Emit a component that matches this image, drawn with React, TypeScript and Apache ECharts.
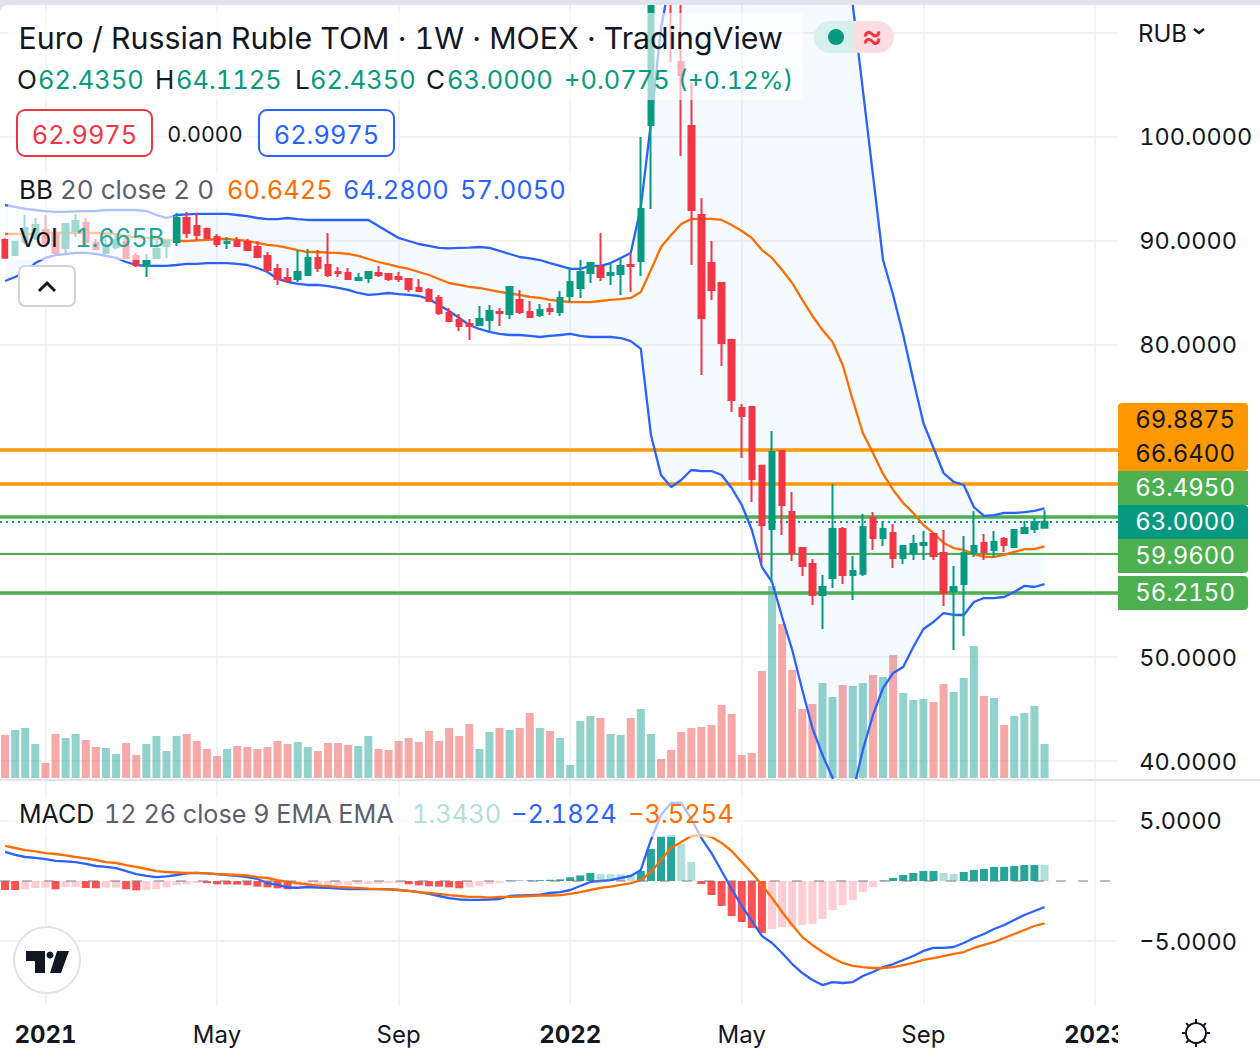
import React, { useEffect, useRef } from "react";
import * as echarts from "echarts";

const opens = [
  90.10,88.65,89.96,90.29,91.06,90.77,89.33,90.96,91.73,89.81,
  88.85,89.40,89.90,88.56,87.60,88.37,89.52,89.90,92.21,91.44,
  91.15,90.38,89.81,90.0,89.9,89.42,88.56,87.31,86.44,86.35,
  86.73,88.37,87.69,87.02,86.92,86.25,86.44,86.92,86.83,86.54,
  86.35,85.48,85.29,84.52,83.08,82.40,82.02,81.92,82.40,83.17,
  82.98,84.33,83.17,82.88,83.46,83.17,84.71,85.48,86.92,87.50,
  86.73,86.83,87.69,88.08,101.15,122,120,107.21,101.06,92.50,
  87.88,85.96,80.48,73.94,74.04,68.38,62.31,69.81,63.94,60.48,
  58.94,55.96,57.60,62.31,57.88,58.0,63.36,61.44,61.92,59.52,
  60.0,60.77,61.83,60.0,56.35,57.02,60.0,60.96,60.29,61.35,
  60.58,61.92,62.31,62.435,
];
const closes = [
  88.39,89.93,91.25,91.54,89.81,88.85,91.63,91.92,89.90,89.23,
  89.62,90.10,88.37,87.69,88.08,89.23,89.98,92.21,90.77,90.58,
  90.29,89.71,89.90,89.52,89.13,88.46,87.21,86.35,86.15,87.02,
  88.37,87.40,86.73,86.92,86.35,86.44,87.02,86.73,86.35,86.35,
  85.38,85.19,84.23,83.08,82.31,81.83,81.83,82.50,83.27,83.08,
  85.58,83.17,82.69,83.37,83.27,84.52,86.06,87.02,87.88,86.54,
  86.92,87.60,87.60,93.08,118,118,114,105.96,92.98,82.60,
  85.29,80.19,74.71,73.17,67.12,62.69,69.71,64.61,60.0,58.75,
  55.96,56.73,62.31,57.88,58.27,62.50,61.44,62.31,59.52,60.67,
  60.87,60.96,59.71,56.15,56.73,60.0,60.67,60.10,61.06,60.77,
  62.21,62.40,62.98,63.0,
];
const lows = [
  88.36,88.56,89.71,90.10,89.62,88.85,88.85,90.38,89.62,89.23,
  88.85,89.20,88.37,87.50,86.54,88.37,88.37,89.52,90.29,90.10,
  90.29,89.42,89.23,89.42,89.13,88.46,87.02,85.77,86.06,86.06,
  86.73,87.02,86.54,86.54,86.35,86.15,85.96,86.54,86.15,86.06,
  85.10,85.10,84.13,82.88,82.31,81.35,80.48,81.83,81.35,81.83,
  82.50,82.98,82.69,82.69,82.88,82.79,84.13,84.52,85.96,86.15,
  85.77,84.81,85.10,86.63,93.08,116,107.2,98.17,87.69,77.11,
  84.33,77.98,73.56,69.13,64.90,59.04,57.12,61.73,59.23,57.79,
  55.0,52.69,56.63,57.02,55.48,57.79,60.29,60.67,58.56,58.94,
  59.33,59.33,59.33,54.90,50.67,52.02,59.62,59.33,59.62,60.10,
  60.58,61.83,61.92,62.435,
];
const highs = [
  90.26,89.98,92.50,92.21,92.50,91.25,91.63,92.60,92.21,90.19,
  90.29,90.60,90.29,88.85,88.75,90.10,89.98,92.69,92.79,92.69,
  91.30,90.67,90.38,90.38,90.19,90.0,88.94,87.79,87.40,89.13,
  89.23,89.13,90.77,87.50,87.40,86.92,87.02,87.60,86.92,87.02,
  86.44,86.35,85.48,84.81,83.56,82.98,82.50,83.75,83.85,83.56,
  85.67,85.29,84.23,83.94,84.04,85.19,87.50,88.17,87.98,90.77,
  87.79,88.37,88.85,100.0,125,132,126,118,105.19,94.13,
  90.0,86.06,80.6,74.33,74.13,68.38,71.73,69.81,65.87,60.58,
  59.42,57.88,66.63,62.5,59.71,63.75,63.94,63.08,62.79,60.67,
  61.73,62.11,61.83,62.21,58.75,61.63,64.04,61.83,62.11,61.54,
  62.31,63.08,63.37,64.1125,
];
const bbUpper = [
  93.46,93.27,93.08,92.98,92.88,92.79,92.79,92.84,92.88,92.88,
  92.98,92.98,92.98,92.98,92.88,92.50,92.21,92.50,92.55,92.60,
  92.60,92.60,92.60,92.50,92.40,92.21,92.11,92.11,92.21,92.11,
  92.02,92.02,92.02,92.02,92.02,92.02,92.02,91.44,90.87,90.29,
  90.0,89.71,89.52,89.33,89.28,89.33,89.37,89.42,89.33,89.04,
  88.75,88.46,88.32,88.17,87.88,87.60,87.31,87.31,87.60,87.60,
  87.88,88.37,88.85,93.27,101.35,110.48,115.67,119,122,124,
  125,126,127,127,127,126,125,124.5,124,123.5,
  123,122.5,122,121.3,112.69,104.52,96.35,88.17,84.81,80.96,
  76.63,72.5,70.10,67.69,66.83,66.54,64.42,63.56,63.65,63.85,
  63.85,63.94,64.04,64.28,
];
const bbBasis = [
  90.67,90.67,90.67,90.67,90.77,90.77,90.77,90.77,90.77,90.77,
  90.72,90.67,90.48,90.38,90.29,90.19,90.10,90.0,90.0,90.05,
  90.10,90.19,90.19,90.10,90.0,89.81,89.62,89.52,89.33,89.13,
  88.94,88.94,88.89,88.85,88.75,88.56,88.27,87.98,87.74,87.50,
  87.31,87.02,86.73,86.35,85.96,85.77,85.58,85.48,85.29,85.10,
  84.95,84.81,84.62,84.52,84.33,84.23,84.13,84.13,84.13,84.23,
  84.33,84.42,84.52,85.10,87.21,89.42,90.58,91.63,92.12,92.12,
  92.12,92.02,91.54,90.96,90.29,89.13,88.37,87.21,85.96,84.33,
  82.79,81.44,80.29,78.08,74.71,71.54,69.62,67.60,66.06,64.81,
  63.85,62.69,61.92,60.96,60.48,60.29,59.90,59.62,59.62,59.81,
  60.10,60.38,60.38,60.6425,
];
const bbLower = [
  86.15,86.54,87.02,87.88,88.37,88.65,88.75,88.85,88.85,88.75,
  88.56,88.37,87.98,87.69,87.60,87.60,87.60,87.69,87.79,87.79,
  87.88,87.88,87.88,87.79,87.69,87.40,87.02,86.35,86.06,85.87,
  85.77,85.77,85.67,85.48,85.29,85.0,84.81,84.90,85.0,84.90,
  84.81,84.71,84.42,83.85,83.27,82.60,81.92,81.54,81.25,81.06,
  80.96,80.96,80.87,80.77,80.87,80.96,81.06,80.87,80.77,80.77,
  80.77,80.67,80.38,79.62,71.35,67.50,66.35,67.02,67.98,67.88,
  67.88,67.50,66.25,64.63,62.21,58.65,57.21,53.85,50.67,46.83,
  43.17,40.58,38.37,35.29,36.92,41.06,44.42,47.02,48.46,49.04,
  50.96,52.69,53.37,54.23,54.04,54.04,55.29,55.67,55.67,55.77,
  56.25,56.83,56.73,57.005,
];
const volumes = [
  2.107,2.352,2.45,1.666,0.735,2.156,1.96,2.156,1.862,1.519,
  1.47,1.176,1.715,1.127,1.666,2.058,1.323,2.058,2.156,1.813,
  1.421,1.078,1.421,1.568,1.519,1.421,1.519,1.813,1.666,1.764,
  1.519,1.323,1.715,1.715,1.617,1.568,2.058,1.421,1.372,1.813,
  1.96,1.764,2.303,1.813,2.45,2.058,2.646,1.421,2.254,2.45,
  2.352,2.45,3.185,2.45,2.303,1.96,0.637,2.793,3.038,2.94,
  2.156,2.107,2.94,3.381,2.156,0.931,1.372,2.254,2.45,2.499,
  2.597,3.577,3.136,1.127,1.225,5.243,9.408,7.546,5.292,3.381,
  3.626,4.655,3.969,4.557,4.508,4.655,5.047,4.949,6.027,4.165,
  3.822,3.871,3.724,4.606,4.214,4.9,6.468,4.018,3.92,2.597,
  3.038,3.185,3.528,1.665,
];
const macdHist = [
  -0.75,-0.75,-0.69,-0.58,-0.55,-0.69,-0.53,-0.50,-0.58,-0.60,
  -0.56,-0.55,-0.69,-0.78,-0.77,-0.69,-0.53,-0.36,-0.28,-0.17,
  -0.18,-0.28,-0.29,-0.30,-0.36,-0.47,-0.53,-0.61,-0.69,-0.56,
  -0.44,-0.36,-0.35,-0.34,-0.33,-0.28,-0.27,-0.26,-0.17,-0.16,
  -0.28,-0.36,-0.44,-0.47,-0.53,-0.61,-0.53,-0.44,-0.28,-0.17,
  0.03,0.04,0.05,0.07,0.1,0.14,0.31,0.47,0.67,0.58,
  0.57,0.56,0.55,0.83,2.67,3.72,3.83,3.08,1.58,-0.25,
  -1.17,-2.08,-2.92,-3.42,-3.92,-4.33,-4.0,-3.83,-3.82,-3.67,
  -3.58,-3.17,-2.42,-2.0,-1.58,-0.92,-0.5,0.03,0.25,0.5,
  0.67,0.83,0.84,0.67,0.58,0.75,0.92,1.0,1.17,1.18,
  1.25,1.33,1.345,1.343,
];
const macdLine = [
  2.42,2.17,2.0,1.92,1.83,1.67,1.63,1.58,1.42,1.25,
  1.17,1.08,0.83,0.58,0.42,0.33,0.38,0.5,0.63,0.67,
  0.63,0.58,0.5,0.42,0.33,0.17,-0.17,-0.33,-0.54,-0.58,
  -0.5,-0.54,-0.58,-0.63,-0.67,-0.67,-0.67,-0.67,-0.67,-0.75,
  -0.83,-0.92,-1.08,-1.25,-1.42,-1.54,-1.58,-1.58,-1.54,-1.5,
  -1.25,-1.21,-1.17,-1.13,-1.0,-0.92,-0.75,-0.42,-0.08,0,
  0.08,0.25,0.42,0.92,3.42,5.5,6.5,6.5,5.17,3.58,
  2.33,0.83,-0.67,-2.08,-3.33,-4.58,-5.17,-6.0,-6.92,-7.67,
  -8.25,-8.67,-8.42,-8.5,-8.42,-7.92,-7.58,-7.17,-6.92,-6.58,
  -6.25,-5.83,-5.58,-5.58,-5.5,-5.17,-4.75,-4.42,-4.0,-3.67,
  -3.25,-2.83,-2.5,-2.1824,
];
const macdSignal = [
  2.92,2.75,2.58,2.46,2.33,2.25,2.13,2.0,1.88,1.75,
  1.58,1.5,1.33,1.17,1.0,0.83,0.75,0.71,0.67,0.67,
  0.63,0.58,0.54,0.5,0.46,0.33,0.25,0.08,-0.08,-0.17,
  -0.29,-0.38,-0.42,-0.5,-0.54,-0.58,-0.63,-0.67,-0.71,-0.75,
  -0.83,-0.92,-1.0,-1.08,-1.17,-1.25,-1.33,-1.33,-1.38,-1.33,
  -1.33,-1.29,-1.25,-1.21,-1.21,-1.17,-1.08,-0.92,-0.75,-0.58,
  -0.46,-0.33,-0.17,0.08,0.75,1.75,2.75,3.25,3.75,3.83,
  3.67,3.17,2.5,1.58,0.67,-0.33,-1.42,-2.58,-3.67,-4.67,
  -5.33,-5.92,-6.42,-6.83,-7.08,-7.17,-7.25,-7.25,-7.17,-7.0,
  -6.83,-6.58,-6.42,-6.25,-6.08,-5.92,-5.58,-5.33,-5.08,-4.75,
  -4.42,-4.08,-3.75,-3.5254,
];

const timeLabels: [number, string][] = [
  [4, "2021"], [21, "May"], [39, "Sep"], [56, "2022"], [73, "May"], [91, "Sep"], [108, "2023"],
];
const yearLabels = ["2021", "2022", "2023"];
const categoryCount = 111;
const categories = Array.from({ length: categoryCount }, (_, i) => {
  const hit = timeLabels.find((t) => t[0] === i);
  return hit ? hit[1] : "";
});
const priceGridTicks = [40, 50, 60, 70, 80, 90, 100, 110];
const priceTickLabels = [40, 50, 80, 90, 100];
const macdTicks = [-5, 5];
const orangeLevels = [69.8875, 66.64];
const greenLevels = [63.495, 59.96, 56.215];
const lastPrice = 63.0;

const FONT = "Inter, 'Noto Sans', sans-serif";
const INK = "#131722";
const GREY = "#5D606B";
const UP = "#089981";
const DOWN = "#F23645";
const BLUE = "#2962FF";
const ORANGE = "#FF6D00";
const GRID = "#F2F3F6";
const NUM = 25.4;

function txt(text: string, x: number, y: number, fill: string, size: number, align = "left", weight: any = 400) {
  return {
    type: "text", z: 70, silent: true,
    style: { text, x, y, fill, font: `${weight} ${size}px ${FONT}`, textAlign: align, textVerticalAlign: "middle" },
  };
}
function box(x: number, y: number, w: number, h: number, fill: string, opacity = 1, r: any = 0, stroke?: string, z = 60) {
  return {
    type: "rect", z, silent: true,
    shape: { x, y, width: w, height: h, r },
    style: { fill, opacity, stroke, lineWidth: stroke ? 2 : 0 },
  };
}

function overlay(): any[] {
  const teeth: any[] = [];
  for (let i = 0; i < 8; i++) {
    const a = (i * Math.PI) / 4;
    teeth.push({
      type: "line", z: 70, silent: true,
      shape: {
        x1: 1196 + Math.cos(a) * 10, y1: 1033 + Math.sin(a) * 10,
        x2: 1196 + Math.cos(a) * 14, y2: 1033 + Math.sin(a) * 14,
      },
      style: { stroke: INK, lineWidth: 2 },
    });
  }
  const axisTag = (y: number, h: number, fill: string, r: any) => box(1118, y, 130, h, fill, 1, r, undefined, 62);
  return [
    // pane chrome
    box(0, 0, 1260, 5, "#E0E3EB", 1, 0, undefined, 55),
    box(0, 4, 9, 9, "#E0E3EB", 1, 0, undefined, 55),
    box(0, 5, 18, 18, "#FFFFFF", 1, [8, 0, 0, 0], undefined, 56),
    box(1118, 5, 8, 1000, "#FFFFFF", 1, 0, undefined, 50),
    box(1118, 1006, 60, 50, "#FFFFFF", 1, 0, undefined, 50),
    box(0, 779, 1260, 2, "#E0E3EB", 1, 0, undefined, 55),
    // legend veils
    box(8, 13, 795, 87, "#FFFFFF", 0.62, 0, undefined, 58),
    box(8, 172, 567, 36, "#FFFFFF", 0.62, 0, undefined, 58),
    box(8, 208, 165, 52, "#FFFFFF", 0.62, 0, undefined, 58),
    box(8, 797, 735, 40, "#FFFFFF", 0.62, 0, undefined, 58),
    // title
    txt("Euro / Russian Ruble TOM · 1W · MOEX · TradingView", 18.5, 37.5, INK, 30.35),
    box(814, 21, 40, 32, "#D6F0EC", 1, [16, 0, 0, 16]),
    box(854, 21, 40, 32, "#FCDDE2", 1, [0, 16, 16, 0]),
    { type: "circle", z: 70, silent: true, shape: { cx: 836, cy: 37, r: 8 }, style: { fill: UP } },
    txt("≈", 872, 35, DOWN, 32, "center", 500),
    // OHLC
    txt("O", 17, 79.5, INK, 26), txt("62.4350", 38, 79.5, UP, NUM),
    txt("H", 155, 79.5, INK, 26), txt("64.1125", 176, 79.5, UP, NUM),
    txt("L", 295, 79.5, INK, 26), txt("62.4350", 310, 79.5, UP, NUM),
    txt("C", 426, 79.5, INK, 26), txt("63.0000", 447, 79.5, UP, NUM),
    txt("+0.0775", 564, 79.5, UP, NUM), txt("(+0.12%)", 678, 79.5, UP, 24.9),
    // bid / ask
    box(17, 110, 135, 46, "#FFFFFF", 1, 8, DOWN),
    txt("62.9975", 84.5, 134, DOWN, NUM, "center"),
    txt("0.0000", 205, 134, INK, 21.5, "center"),
    box(259, 110, 135, 46, "#FFFFFF", 1, 8, BLUE),
    txt("62.9975", 326.5, 134, BLUE, NUM, "center"),
    // BB
    txt("BB", 19, 189.5, INK, 26),
    txt("20 close 2 0", 60, 189.5, GREY, 26),
    txt("60.6425", 227, 189.5, ORANGE, NUM),
    txt("64.2800", 343, 189.5, BLUE, NUM),
    txt("57.0050", 460, 189.5, BLUE, NUM),
    // Vol
    txt("Vol", 19, 237.5, INK, 26),
    txt("1.665B", 75, 237.5, "#26A69A", NUM),
    // collapse button
    box(19, 266, 56, 40, "#FFFFFF", 1, 6, "#D1D4DC"),
    {
      type: "polyline", z: 70, silent: true,
      shape: { points: [[39, 291], [47, 283], [55, 291]] },
      style: { stroke: INK, lineWidth: 3, fill: "none" },
    },
    // MACD
    txt("MACD", 19, 813.5, INK, 25),
    txt("12 26 close 9 EMA EMA", 104, 813.5, GREY, 25.2),
    txt("1.3430", 412, 813.5, "#B2DFDB", NUM),
    txt("−2.1824", 511, 813.5, BLUE, NUM),
    txt("−3.5254", 628, 813.5, ORANGE, NUM),
    // price tags
    axisTag(403, 34, "#FF9800", [4, 4, 0, 0]),
    axisTag(437, 34, "#FF9800", [0, 0, 4, 0]),
    axisTag(471, 34, "#4CAF50", 0),
    axisTag(505, 34, "#089981", [0, 4, 0, 0]),
    axisTag(539, 34, "#4CAF50", [0, 0, 4, 0]),
    axisTag(576, 34, "#4CAF50", [0, 4, 4, 0]),
    { ...txt("69.8875", 1235, 419.5, INK, 24, "right"), z: 72 },
    { ...txt("66.6400", 1235, 453.5, INK, 24, "right"), z: 72 },
    { ...txt("63.4950", 1235, 487.5, "#FFFFFF", 24, "right"), z: 72 },
    { ...txt("63.0000", 1235, 521.5, "#FFFFFF", 24, "right"), z: 72 },
    { ...txt("59.9600", 1235, 555.5, "#FFFFFF", 24, "right"), z: 72 },
    { ...txt("56.2150", 1235, 592.5, "#FFFFFF", 24, "right"), z: 72 },
    // currency selector
    txt("RUB", 1138, 33, INK, 24),
    {
      type: "polyline", z: 70, silent: true,
      shape: { points: [[1194, 29], [1199, 33], [1204, 29]] },
      style: { stroke: INK, lineWidth: 2.5, fill: "none" },
    },
    // logo
    {
      type: "circle", z: 65, silent: true,
      shape: { cx: 47, cy: 960, r: 33 },
      style: { fill: "#FFFFFF", stroke: "#E0E3EB", lineWidth: 2 },
    },
    {
      type: "polygon", z: 70, silent: true,
      shape: { points: [[26, 951], [45, 951], [45, 973], [35, 973], [35, 961], [26, 961]] },
      style: { fill: INK },
    },
    {
      type: "polygon", z: 70, silent: true,
      shape: { points: [[57, 951], [69, 951], [61, 973], [50, 973]] },
      style: { fill: INK },
    },
    { type: "circle", z: 70, silent: true, shape: { cx: 50, cy: 955, r: 3.5 }, style: { fill: INK } },
    // settings icon
    {
      type: "circle", z: 70, silent: true,
      shape: { cx: 1196, cy: 1033, r: 10 },
      style: { fill: "#FFFFFF", stroke: INK, lineWidth: 2 },
    },
    ...teeth,
  ];
}

export default function App() {
  const ref = useRef<HTMLDivElement>(null);
  useEffect(() => {
    document.body.style.margin = "0";
    document.body.style.overflow = "hidden";
    const sheet = document.createElement("style");
    sheet.textContent =
      "svg text { font-variant-numeric: tabular-nums !important; font-feature-settings: 'tnum' 1 !important; }";
    document.head.appendChild(sheet);
    const chart = echarts.init(ref.current!, undefined, { renderer: "svg" });
    const labelShown = (i: number) => categories[i] !== "";
    const gridBox = { left: -2, width: 1122.2 };
    const xBase = {
      type: "category",
      data: categories,
      boundaryGap: true,
      axisLine: { show: false },
      axisTick: { show: false },
    };
    const vSplit = {
      show: true,
      alignWithLabel: true,
      interval: (i: number) => labelShown(i),
      lineStyle: { color: GRID, width: 2 },
    };
    chart.setOption({
      animation: false,
      tooltip: { show: false },
      grid: [
        { ...gridBox, top: 5, height: 774 },
        { ...gridBox, top: 5, height: 773 },
        { ...gridBox, top: 781, height: 224 },
      ],
      xAxis: [
        { ...xBase, gridIndex: 0, axisLabel: { show: false }, splitLine: vSplit },
        { ...xBase, gridIndex: 1, axisLabel: { show: false }, splitLine: { show: false } },
        {
          ...xBase,
          gridIndex: 2,
          splitLine: vSplit,
          axisLabel: {
            show: true,
            interval: (i: number) => labelShown(i),
            margin: 17,
            color: INK,
            fontFamily: FONT,
            fontSize: 24,
            formatter: (v: string) => (yearLabels.includes(v) ? `{y|${v}}` : v),
            rich: { y: { fontFamily: FONT, fontSize: 24, fontWeight: 700, color: INK } },
          },
        },
      ],
      yAxis: [
        {
          type: "value", gridIndex: 0, position: "right",
          min: 38.27, max: 112.69,
          axisLine: { show: false },
          axisTick: { show: false, customValues: priceGridTicks },
          axisLabel: {
            show: true, customValues: priceTickLabels, inside: false, margin: 19,
            color: INK, fontFamily: FONT, fontSize: 23.5, align: "left",
            formatter: (v: number) => v.toFixed(4),
          },
          splitLine: { show: true, lineStyle: { color: GRID, width: 2 } },
        },
        {
          type: "value", gridIndex: 1, position: "left",
          min: 0, max: 37.877, show: false,
          splitLine: { show: false },
        },
        {
          type: "value", gridIndex: 2, position: "right",
          min: -10.333, max: 8.333,
          axisLine: { show: false },
          axisTick: { show: false, customValues: macdTicks },
          axisLabel: {
            show: true, customValues: macdTicks, margin: 19,
            color: INK, fontFamily: FONT, fontSize: 23.5, align: "left",
            formatter: (v: number) => (v < 0 ? "−" : "") + Math.abs(v).toFixed(4),
          },
          splitLine: { show: true, lineStyle: { color: GRID, width: 2 } },
        },
      ],
      series: [
        {
          name: "Volume", type: "bar", xAxisIndex: 1, yAxisIndex: 1, z: 1,
          barWidth: 8, data: volumes, silent: true,
          itemStyle: {
            color: (p: any) =>
              closes[p.dataIndex] >= opens[p.dataIndex] ? "rgba(38,166,154,0.5)" : "rgba(239,83,80,0.5)",
          },
        },
        {
          name: "BB band", type: "custom", xAxisIndex: 0, yAxisIndex: 0, z: 2, clip: true, silent: true,
          data: [[0, 60]],
          encode: { x: 0, y: 1 },
          renderItem: (_p: any, api: any) => {
            const pts: number[][] = [];
            bbUpper.forEach((v, i) => pts.push(api.coord([i, v])));
            for (let i = bbLower.length - 1; i >= 0; i--) pts.push(api.coord([i, bbLower[i]]));
            return { type: "polygon", shape: { points: pts }, style: { fill: "rgba(33,150,243,0.05)" } };
          },
        },
        {
          name: "BB lower", type: "line", xAxisIndex: 0, yAxisIndex: 0, z: 4, data: bbLower,
          showSymbol: false, silent: true, lineStyle: { color: BLUE, width: 2.3 },
          markLine: {
            silent: true, symbol: "none", label: { show: false }, z: 3,
            data: [
              ...orangeLevels.map((v) => ({ yAxis: v, lineStyle: { color: "#FF9800", width: 3.5, type: "solid" } })),
              ...greenLevels.map((v, i) => ({ yAxis: v, lineStyle: { color: "#4CAF50", width: i === 1 ? 2 : 3.5, type: "solid" } })),
              { yAxis: lastPrice, lineStyle: { color: UP, width: 2, type: [2, 4] } },
            ],
          },
        },
        {
          name: "BB upper", type: "line", xAxisIndex: 0, yAxisIndex: 0, z: 4, data: bbUpper,
          showSymbol: false, silent: true, lineStyle: { color: BLUE, width: 2.3 },
        },
        {
          name: "BB basis", type: "line", xAxisIndex: 0, yAxisIndex: 0, z: 4, data: bbBasis,
          showSymbol: false, silent: true, lineStyle: { color: ORANGE, width: 2.3 },
        },
        {
          name: "EUR/RUB", type: "candlestick", xAxisIndex: 0, yAxisIndex: 0, z: 6, silent: true,
          barWidth: 6,
          data: opens.map((o, i) => [o, closes[i], lows[i], highs[i]]),
          itemStyle: { color: UP, color0: DOWN, borderColor: UP, borderColor0: DOWN, borderWidth: 2 },
        },
        {
          name: "MACD hist", type: "bar", xAxisIndex: 2, yAxisIndex: 2, z: 2, silent: true,
          barWidth: 8, data: macdHist,
          itemStyle: {
            color: (p: any) => {
              const i = p.dataIndex;
              const v = macdHist[i];
              const prev = i > 0 ? macdHist[i - 1] : v;
              if (v >= 0) return v >= prev ? "#26A69A" : "#B2DFDB";
              return v <= prev ? "#FF5252" : "#FFCDD2";
            },
          },
          markLine: {
            silent: true, symbol: "none", label: { show: false },
            data: [{ yAxis: 0, lineStyle: { color: "rgba(120,123,134,0.5)", width: 2, type: [10, 12] } }],
          },
        },
        {
          name: "MACD", type: "line", xAxisIndex: 2, yAxisIndex: 2, z: 4, data: macdLine,
          showSymbol: false, silent: true, lineStyle: { color: BLUE, width: 2.3 },
        },
        {
          name: "Signal", type: "line", xAxisIndex: 2, yAxisIndex: 2, z: 4, data: macdSignal,
          showSymbol: false, silent: true, lineStyle: { color: ORANGE, width: 2.3 },
        },
      ],
      graphic: { elements: overlay() },
    });
    return () => {
      chart.dispose();
      sheet.remove();
    };
  }, []);
  return (
    <div
      ref={ref}
      style={{ position: "absolute", left: 0, top: 0, width: 1260, height: 1058, background: "#FFFFFF" }}
    />
  );
}
